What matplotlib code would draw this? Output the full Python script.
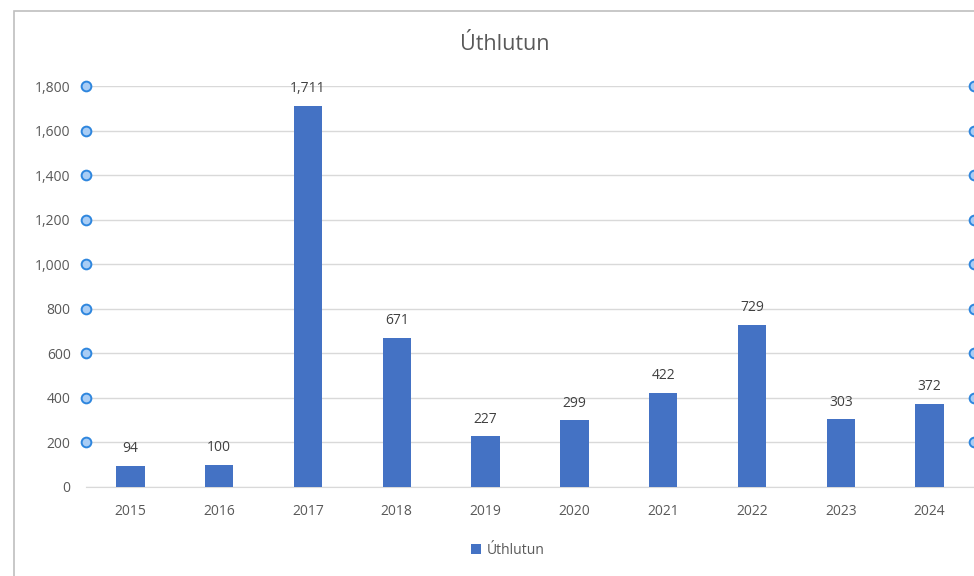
import matplotlib.pyplot as plt
from matplotlib.patches import Rectangle

years = ['2015', '2016', '2017', '2018', '2019', '2020', '2021', '2022', '2023', '2024']
uthlutun = [94, 100, 1711, 671, 227, 299, 422, 729, 303, 372]
yticks = [0, 200, 400, 600, 800, 1000, 1200, 1400, 1600, 1800]

plt.rcParams['font.family'] = ['Open Sans', 'DejaVu Sans']

fig = plt.figure(figsize=(9.74, 5.76), dpi=100)
ax = fig.add_axes([86 / 974, 89 / 576, 888 / 974, 401 / 576])

x = range(len(years))
bars = ax.bar(x, uthlutun, width=0.32, color='#4472C4', label='Úthlutun', zorder=3)

# data labels above bars
for i, v in enumerate(uthlutun):
    ax.annotate(f'{v:,}', (i, v), xytext=(0, 7), textcoords='offset points',
                ha='center', va='bottom', fontsize=10, color='#404040')

ax.set_xlim(-0.5, len(years) - 0.5)
ax.set_ylim(0, 1800)
ax.set_yticks(yticks)
ax.set_yticklabels([f'{t:,}' for t in yticks])
ax.set_xticks(list(x))
ax.set_xticklabels(years)
ax.tick_params(axis='both', length=0, labelsize=10, colors='#595959')
ax.tick_params(axis='y', pad=11)
ax.tick_params(axis='x', pad=12)
ax.grid(axis='y', color='#D9D9D9', linewidth=1, zorder=0)
for s in ['top', 'right', 'left']:
    ax.spines[s].set_visible(False)
ax.spines['bottom'].set_color('#D9D9D9')

# selection handles on the gridlines (left and right)
for t in yticks[1:]:
    for xx in (0, 1):
        ax.plot(xx, t, 'o', transform=ax.get_yaxis_transform(), ms=7,
                mfc='#A9CDF5', mec='#2E86DE', mew=1.4, clip_on=False, zorder=5)

fig.text(505 / 974, 1 - 45 / 576, 'Úthlutun', ha='center', va='center',
         fontsize=15.5, color='#595959')

fig.legend(handles=[bars], loc='center', bbox_to_anchor=(508 / 974, 1 - 550 / 576),
           frameon=False, fontsize=10, labelcolor='#595959', handlelength=0.7,
           handleheight=0.7, handletextpad=0.4)

# chart border
fig.patches.append(Rectangle((14 / 974, -0.1), 1.2, 1 - 11 / 576 + 0.1,
                             transform=fig.transFigure, fill=False,
                             edgecolor='#BFBFBF', linewidth=1.2))

fig.savefig('out.png', dpi=100)
